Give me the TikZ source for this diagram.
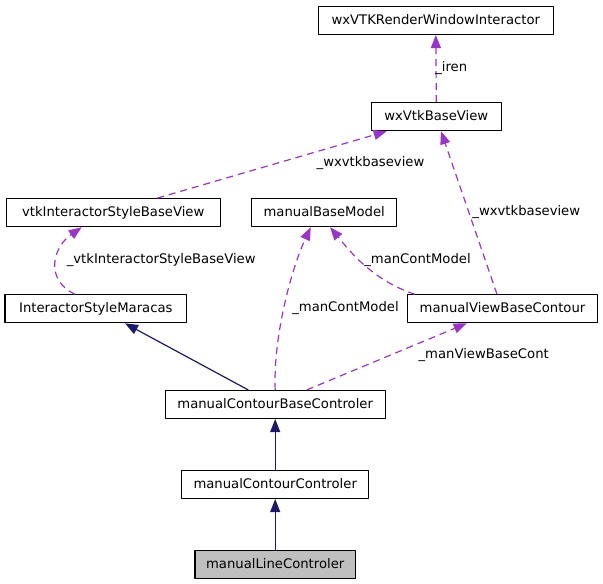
\documentclass[tikz,border=0pt]{standalone}
\usepackage{fontspec}
\setmainfont{DejaVu Sans}
\usetikzlibrary{arrows.meta}
\definecolor{edgepurple}{HTML}{9A32CD}
\definecolor{edgenavy}{HTML}{191970}
\definecolor{boxgray}{HTML}{BFBFBF}
\begin{document}
\begin{tikzpicture}[x=1pt,y=-1pt,font=\fontsize{13.2}{15}\selectfont, line join=round,
	hop/.style={rectangle,draw=black,line width=1.1pt,minimum height=28pt,inner sep=0pt,text height=10pt,text depth=2.4pt},
	dep/.style={draw=edgepurple,line width=1.2pt,dash pattern=on 7pt off 5pt,-{Triangle[length=13pt,width=10pt]}},
	inh/.style={draw=edgenavy,line width=1.2pt,-{Triangle[length=13pt,width=10pt]}},
	nhan/.style={inner sep=0pt,anchor=base,text=black}]
	\useasboundingbox(0,0)rectangle(603,584);
	\path(435.8,20.5)node[hop,minimum width=235pt](a){wxVTKRenderWindowInteractor}%Cấp 0
	(a)++(0.5,96.2)node[hop,minimum width=130pt](b){wxVtkBaseView}%Cấp 1
	;
	\path%Cấp 2
	(b)++(-323.1,96)node[hop,minimum width=213.7pt](c){vtkInteractorStyleBaseView}
	(b)++(-112.1,96)node[hop,minimum width=145pt](d){manualBaseModel}
	;
	\path%Cấp 3
	(c)++(-17.4,96.1)node[hop,minimum width=181.7pt](e){InteractorStyleMaracas}
	(d)++(178.3,96.1)node[hop,minimum width=189.6pt](f){manualViewBaseContour}
	;
	\path%Cấp 4
	(d)++(-49,191.8)node[hop,minimum width=220.3pt](g){manualContourBaseControler}
	;
	\path%Cấp 5
	(g)++(0,80)node[hop,minimum width=187.3pt](h){manualContourControler}
	(h)++(0,80)node[hop,fill=boxgray,minimum width=160.4pt](k){manualLineControler}
	;
	%Vẽ
	\draw[dep](b.north)--(a.south) node[nhan] at (451.2,71.7){\_iren};
	\draw[dep]([xshift=44pt]c.north)--([xshift=-49.6pt]b.south) node[nhan] at (370.5,166.7){\_wxvtkbaseview};
	\draw[dep]([xshift=-5.5pt]f.north)--([xshift=4.7pt]b.south) node[nhan] at (526.3,215){\_wxvtkbaseview};
	%%%
	\draw[dep]([xshift=-20.8pt]e.north)..controls(45,280)and(52,248)..([xshift=-31.5pt]c.south) node[nhan] at (161.2,263.3){\_vtkInteractorStyleBaseView};
	\draw[dep]([xshift=-87.5pt]f.north)..controls(370,280)and(345,245)..([xshift=5.8pt]d.south) node[nhan] at (417.5,263.3){\_manContModel};
	\draw[dep](g.north)..controls(273,340)and(290,272)..([xshift=-13.5pt]d.south) node[nhan] at (345.5,311){\_manContModel};
	\draw[dep]([xshift=31.5pt]g.north)--([xshift=-35.8pt]f.south) node[nhan] at (483.7,358.3){\_manViewBaseCont};
	%%%
	\draw[inh]([xshift=-26.9pt]g.north)--([xshift=29.2pt]e.south);
	\draw[inh](h.north)--(g.south);
	\draw[inh](k.north)--(h.south);
\end{tikzpicture}
\end{document}
